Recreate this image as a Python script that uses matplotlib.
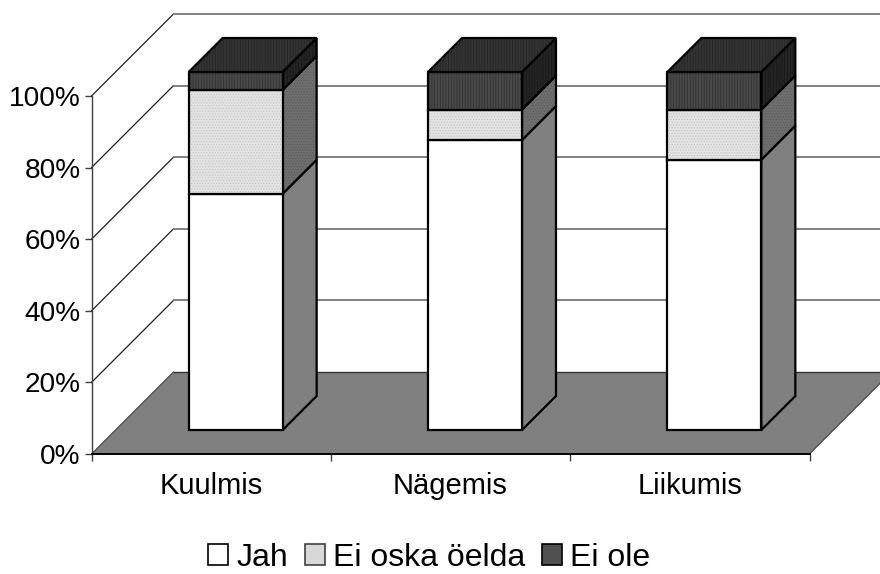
import numpy as np
import matplotlib
matplotlib.use('Agg')
import matplotlib.pyplot as plt
from matplotlib.patches import Patch

# data (percent of each bar)
categories = ['Kuulmis', 'Nägemis', 'Liikumis']
jah = [66, 81, 75.5]
ei_oska = [29, 8.5, 14]
ei_ole = [5, 10.5, 10.5]
series_names = ['Jah', 'Ei oska öelda', 'Ei ole']
y_ticks = [0, 20, 40, 60, 80, 100]

plt.rcParams['font.family'] = ['Liberation Sans', 'DejaVu Sans']
plt.rcParams['hatch.linewidth'] = 0.5

fig = plt.figure(figsize=(8.8, 5.74), dpi=100)
ax = fig.add_axes([91.5 / 880, 120 / 574, 718 / 880, 358 / 574])
ax.set_xlim(0, 3)
ax.set_ylim(0, 100)

# pixel sizes of the fake 3D box, turned into data units
px_x = 3 / 718
px_y = 100 / 358
wall_dx, wall_dy = 82 * px_x, 82 * px_y
bar_off_x, bar_off_y = 24.5 * px_x, 24 * px_y
bar_dx, bar_dy = 34 * px_x, 34 * px_y
bar_w = 94 * px_x


def face(xs, ys, color, hatch=None, hatch_color=None, lw=1.6, z=5):
    # fill with optional hatch, then the black outline on top
    ax.fill(xs, ys, facecolor=color, hatch=hatch, edgecolor=hatch_color or color,
            linewidth=0, clip_on=False, zorder=z)
    ax.fill(xs, ys, facecolor='none', edgecolor='black', linewidth=lw,
            clip_on=False, zorder=z, joinstyle='miter')


# walls and floor
for t in y_ticks[1:]:
    ax.plot([0, wall_dx], [t, t + wall_dy], color='#202020', lw=0.9, clip_on=False, zorder=2)
    ax.plot([wall_dx, 3 + wall_dx], [t + wall_dy, t + wall_dy], color='#808080', lw=1.4,
            clip_on=False, zorder=2)
ax.fill([0, 3, 3 + wall_dx, wall_dx], [0, 0, wall_dy, wall_dy], facecolor='#808080',
        edgecolor='none', clip_on=False, zorder=3)
ax.plot([wall_dx, 3 + wall_dx], [wall_dy, wall_dy], color='#303030', lw=1, clip_on=False, zorder=3)
ax.plot([3, 3 + wall_dx], [0, wall_dy], color='#303030', lw=0.7, clip_on=False, zorder=3)
ax.plot([0, wall_dx], [0, wall_dy], color='#303030', lw=0.7, clip_on=False, zorder=3)

# stacked bars
styles = [
    {'front': ('white', None, None), 'side': ('#808080', None, None)},
    {'front': ('#e2e2e2', '......', '#c4c4c4'), 'side': ('#6e6e6e', '......', '#5c5c5c')},
    {'front': ('#484848', '||||||', '#303030'), 'side': ('#242424', '||||||', '#161616')},
]
for i in range(len(categories)):
    x0 = i + 0.5 - bar_w / 2 + bar_off_x
    x1 = x0 + bar_w
    y0 = bar_off_y
    for values, st in zip([jah, ei_oska, ei_ole], styles):
        y1 = y0 + values[i]
        c, h, hc = st['side']
        face([x1, x1 + bar_dx, x1 + bar_dx, x1], [y0, y0 + bar_dy, y1 + bar_dy, y1], c, h, hc)
        c, h, hc = st['front']
        face([x0, x1, x1, x0], [y0, y0, y1, y1], c, h, hc)
        y0 = y1
    face([x0, x1, x1 + bar_dx, x0 + bar_dx], [y0, y0, y0 + bar_dy, y0 + bar_dy],
         '#333333', '||||||', '#242424')

# axes
for s in ['top', 'right']:
    ax.spines[s].set_visible(False)
ax.spines['left'].set_color('#404040')
ax.spines['left'].set_linewidth(1)
ax.spines['bottom'].set_color('black')
ax.spines['bottom'].set_linewidth(1.4)
ax.spines['bottom'].set_zorder(4)
ax.set_yticks(y_ticks)
ax.set_yticklabels([f'{t}%' for t in y_ticks], fontsize=20.2)
ax.set_xticks([0, 1, 2, 3])
ax.set_xticklabels([])
ax.set_xticks(np.arange(len(categories)) + 0.5, minor=True)
ax.set_xticklabels(categories, minor=True, fontsize=21)
ax.tick_params(axis='x', which='minor', length=0, pad=13)
ax.tick_params(axis='x', which='major', length=5, width=1, color='#404040')
ax.tick_params(axis='y', length=5, width=1, color='#404040', pad=3)

handles = [
    Patch(facecolor='white', edgecolor='black', linewidth=1.2),
    Patch(facecolor='#d8d8d8', edgecolor='#404040', linewidth=1.2),
    Patch(facecolor='#505050', edgecolor='black', linewidth=1.2),
]
fig.legend(handles, series_names, loc='center', bbox_to_anchor=(429 / 880, 1 - 558 / 574),
           ncol=3, frameon=False, fontsize=23, handlelength=0.62, handleheight=0.62,
           handletextpad=0.25, columnspacing=0.53, borderpad=0)

fig.savefig('out.png', dpi=100)
